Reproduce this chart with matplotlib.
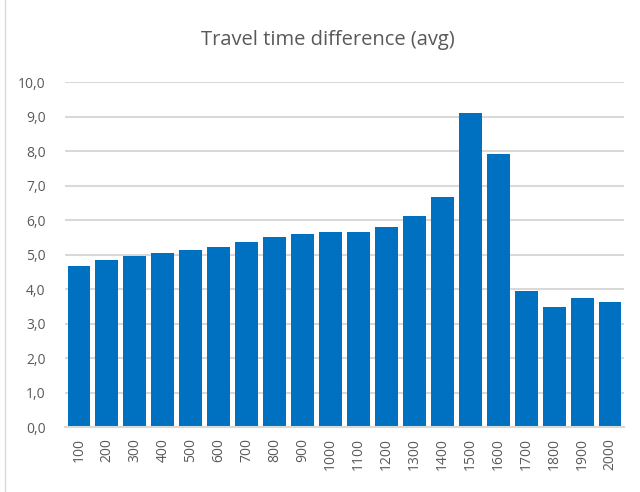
import matplotlib.pyplot as plt
from matplotlib.patches import Rectangle

# distance buckets and average travel time difference
categories = ['100', '200', '300', '400', '500', '600', '700', '800', '900', '1000',
              '1100', '1200', '1300', '1400', '1500', '1600', '1700', '1800', '1900', '2000']
values = [4.68, 4.85, 4.96, 5.05, 5.14, 5.22, 5.37, 5.52, 5.60, 5.66,
          5.66, 5.80, 6.12, 6.67, 9.11, 7.92, 3.95, 3.49, 3.75, 3.64]
yticks = [0, 1, 2, 3, 4, 5, 6, 7, 8, 9, 10]
ytick_labels = ['0,0', '1,0', '2,0', '3,0', '4,0', '5,0', '6,0', '7,0', '8,0', '9,0', '10,0']

plt.rcParams['font.family'] = ['Open Sans', 'DejaVu Sans']

fig = plt.figure(figsize=(6.4, 4.92), dpi=100)
ax = fig.add_axes([65 / 640, 1 - 427.3 / 492, (624 - 65) / 640, (427.3 - 82.3) / 492])

ax.bar(range(len(values)), values, width=0.82, color='#0070C0', zorder=3)
ax.set_xlim(-0.5, len(values) - 0.5)
ax.set_ylim(0, 10)
ax.set_yticks(yticks)
ax.set_yticklabels(ytick_labels)
ax.set_xticks(range(len(categories)))
ax.set_xticklabels(categories, rotation=90)
ax.tick_params(axis='both', length=0, labelsize=10, colors='#595959')
ax.tick_params(axis='y', pad=14)
ax.tick_params(axis='x', pad=8)

ax.grid(axis='y', color='#D9D9D9', linewidth=1.5, zorder=0)
for side in ['top', 'right', 'left']:
    ax.spines[side].set_visible(False)
ax.spines['bottom'].set_color('#D9D9D9')
ax.spines['bottom'].set_linewidth(1.5)
ax.spines['bottom'].set_zorder(4)

fig.text(328 / 640, 1 - 40 / 492, 'Travel time difference (avg)', ha='center', va='center',
         fontsize=14.5, color='#595959')

# light chart-area border
fig.patches.append(Rectangle((5 / 640, -0.01), 1.0, 1.02, transform=fig.transFigure,
                             fill=False, edgecolor='#D9D9D9', linewidth=1))

fig.savefig('out.png', dpi=100)
